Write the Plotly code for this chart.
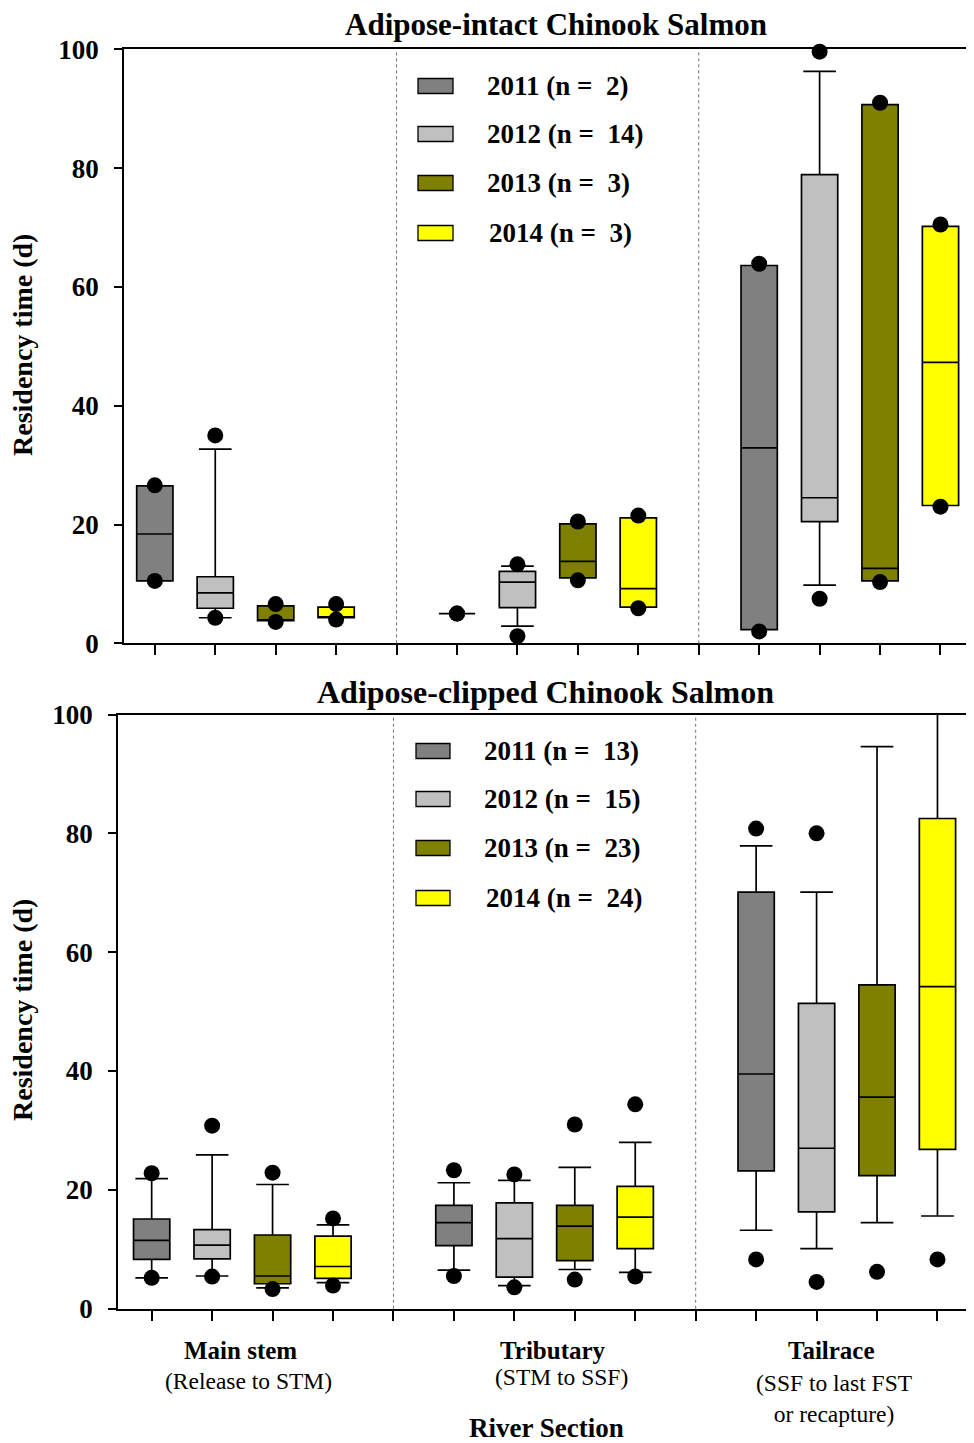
import plotly.graph_objects as go

# ---------------- data ----------------
years = ["2011", "2012", "2013", "2014"]
sections = ["Main stem", "Tributary", "Tailrace"]
section_sub = ["(Release to STM)", "(STM to SSF)", "(SSF to last FST<br>or recapture)"]
colors = ["#808080", "#C0C0C0", "#808000", "#FFFF00"]

n_intact = [2, 14, 3, 3]
n_clipped = [13, 15, 23, 24]

# rows = years (2011..2014), columns = sections (Main stem, Tributary, Tailrace)
intact_q1 = [[10.5, 5.0, 2.3], [5.9, 6.0, 20.5], [3.8, 11.0, 10.5], [4.3, 6.1, 23.2]]
intact_med = [[18.4, 5.0, 32.9], [8.5, 10.3, 24.5], [3.9, 13.8, 12.6], [4.4, 9.2, 47.3]]
intact_q3 = [[26.5, 5.0, 63.6], [11.2, 12.1, 78.9], [6.3, 20.1, 90.7], [6.1, 21.1, 70.2]]
intact_lo = [[10.5, 5.0, 2.3], [4.3, 2.9, 9.8], [3.8, 11.0, 10.5], [4.3, 6.1, 23.2]]
intact_hi = [[26.5, 5.0, 63.6], [32.7, 13.0, 96.3], [6.3, 20.1, 90.7], [6.1, 21.1, 70.2]]
intact_dot_lo = [[10.5, 5.0, 2.0], [4.3, 1.2, 7.5], [3.6, 10.6, 10.3], [4.0, 5.9, 23.0]]
intact_dot_hi = [[26.6, 5.0, 63.9], [35.0, 13.3, 99.6], [6.6, 20.5, 91.0], [6.6, 21.5, 70.5]]

clipped_q1 = [[8.3, 10.6, 23.2], [8.4, 5.3, 16.3], [4.2, 8.1, 22.4], [5.1, 10.1, 26.8]]
clipped_med = [[11.5, 14.5, 39.5], [10.7, 11.8, 27.0], [5.5, 13.9, 35.6], [7.1, 15.4, 54.2]]
clipped_q3 = [[15.1, 17.4, 70.1], [13.3, 17.8, 51.4], [12.4, 17.4, 54.5], [12.2, 20.6, 82.5]]
clipped_lo = [[5.2, 6.5, 13.2], [5.5, 3.9, 10.1], [3.5, 6.6, 14.5], [4.4, 6.1, 15.6]]
clipped_hi = [[21.9, 21.2, 77.9], [25.9, 21.6, 70.1], [20.9, 23.8, 94.6], [14.1, 28.0, 118.0]]
clipped_dot_lo = [[5.2, 5.5, 8.3], [5.4, 3.6, 4.5], [3.3, 4.9, 6.2], [3.9, 5.4, 8.3]]
clipped_dot_hi = [[22.8, 23.3, 80.8], [30.8, 22.6, 80.0], [22.9, 31.0, None], [15.2, 34.4, None]]

yticks = [0, 20, 40, 60, 80, 100]

# ---------------- layout helpers ----------------
W, H = 974, 1443
OFF = 8  # default page body margin
FONT = "Liberation Serif, Times New Roman, serif"


def px(x):
    return (x - OFF) / W


def py(y):
    return 1 - (y - OFF) / H


def pos(s, yi):
    return 5 * s + yi + 1


fig = go.Figure()

panels = [
    dict(xa="x", ya="y", q1=intact_q1, med=intact_med, q3=intact_q3, lo=intact_lo, hi=intact_hi,
         dlo=intact_dot_lo, dhi=intact_dot_hi),
    dict(xa="x2", ya="y2", q1=clipped_q1, med=clipped_med, q3=clipped_q3, lo=clipped_lo, hi=clipped_hi,
         dlo=clipped_dot_lo, dhi=clipped_dot_hi),
]

for p in panels:
    # outlier dots (drawn first, under the boxes)
    dx, dy = [], []
    for yi in range(4):
        for s in range(3):
            for v in (p["dlo"][yi][s], p["dhi"][yi][s]):
                if v is not None:
                    dx.append(pos(s, yi))
                    dy.append(v)
    fig.add_trace(go.Scatter(x=dx, y=dy, mode="markers", xaxis=p["xa"], yaxis=p["ya"],
                             marker=dict(color="black", size=16), cliponaxis=False,
                             showlegend=False, hoverinfo="skip"))
for p in panels:
    for yi in range(4):
        fig.add_trace(go.Box(
            x=[pos(s, yi) for s in range(3)],
            q1=p["q1"][yi], median=p["med"][yi], q3=p["q3"][yi],
            lowerfence=p["lo"][yi], upperfence=p["hi"][yi],
            xaxis=p["xa"], yaxis=p["ya"],
            fillcolor=colors[yi], line=dict(color="black", width=1.7),
            width=0.6, whiskerwidth=0.9, boxpoints=False,
            showlegend=False, name=years[yi]))

# plot areas in pixels
top = dict(x0=124, x1=970.7, y0=49.3, y1=643.3, xr=[0.49, 14.5])
bot = dict(x0=118, x1=968.3, y0=714.5, y1=1308.7, xr=[0.443, 14.51])

axis_common = dict(showline=True, linecolor="black", linewidth=1.8, mirror=True, automargin=False,
                   ticks="outside", tickcolor="black", showgrid=False, zeroline=False)

xt = dict(tickvals=list(range(1, 15)), showticklabels=False, ticklen=10, tickwidth=1.5, **axis_common)
yt = dict(range=[0, 100], tickvals=yticks, ticklen=8, tickwidth=1.5, ticklabelstandoff=10,
          tickfont=dict(family=FONT, size=27, color="black", weight="bold"), **axis_common)

fig.update_layout(
    width=W, height=H, autosize=False,
    margin=dict(l=0, r=0, t=0, b=0, pad=0),
    plot_bgcolor="white", paper_bgcolor="white",
    xaxis=dict(domain=[px(top["x0"]), px(top["x1"])], range=top["xr"], anchor="y", **xt),
    yaxis=dict(domain=[py(top["y1"]), py(top["y0"])], anchor="x", **yt),
    xaxis2=dict(domain=[px(bot["x0"]), px(bot["x1"])], range=bot["xr"], anchor="y2", **xt),
    yaxis2=dict(domain=[py(bot["y1"]), py(bot["y0"])], anchor="x2", **yt),
)

shapes = []
ann = []
# section separators
for xa, ya in (("x", "y"), ("x2", "y2")):
    for s in (1, 2):
        shapes.append(dict(type="line", xref=xa, yref=ya + " domain", x0=5 * s, x1=5 * s, y0=0, y1=1,
                           line=dict(color="#707070", width=1, dash="dot")))

# titles
ann.append(dict(text="<b>Adipose-intact Chinook Salmon</b>", x=px(556), y=py(25), xref="paper", yref="paper",
                showarrow=False, font=dict(family=FONT, size=31, color="black"), xanchor="center", yanchor="middle"))
ann.append(dict(text="<b>Adipose-clipped Chinook Salmon</b>", x=px(545), y=py(692), xref="paper", yref="paper",
                showarrow=False, font=dict(family=FONT, size=32, color="black"), xanchor="center", yanchor="middle"))
# y titles
for ycen in (345, 1010):
    ann.append(dict(text="<b>Residency time (d)</b>", x=px(22), y=py(ycen), xref="paper", yref="paper",
                    showarrow=False, textangle=-90, font=dict(family=FONT, size=28, color="black"),
                    xanchor="center", yanchor="middle"))

# manual legends
leg_specs = [
    dict(n=n_intact, sx0=418, sx1=453, tx=485, ys=[86, 134, 183, 233]),
    dict(n=n_clipped, sx0=416, sx1=450, tx=482, ys=[751, 799, 848, 898]),
]
for L in leg_specs:
    for yi in range(4):
        yc = L["ys"][yi]
        shapes.append(dict(type="rect", xref="paper", yref="paper",
                           x0=px(L["sx0"]), x1=px(L["sx1"]), y0=py(yc + 7.5), y1=py(yc - 7.5),
                           fillcolor=colors[yi], line=dict(color="black", width=1.3)))
        ann.append(dict(text=f"<b>{years[yi]} (n =\u00a0 {L['n'][yi]})</b>", x=px(L["tx"] + (2 if yi == 3 else 0)),
                        y=py(yc), xref="paper", yref="paper", showarrow=False,
                        font=dict(family=FONT, size=27, color="black"), xanchor="left", yanchor="middle"))

# x category labels (bottom panel)
cat_pos = [(240, 248), (553, 561), (831, 834)]
for s in range(3):
    ann.append(dict(text=f"<b>{sections[s]}</b>", x=px(cat_pos[s][0]), y=py(1350), xref="paper", yref="paper",
                    showarrow=False, font=dict(family=FONT, size=25, color="black"),
                    xanchor="center", yanchor="middle"))
sub_y = [1381, 1377, 1398]
for s in range(3):
    ann.append(dict(text=section_sub[s], x=px(cat_pos[s][1]), y=py(sub_y[s]), xref="paper", yref="paper",
                    showarrow=False, font=dict(family=FONT, size=23.5, color="black"),
                    xanchor="center", yanchor="middle", align="center"))
ann.append(dict(text="<b>River Section</b>", x=px(546), y=py(1428), xref="paper", yref="paper",
                showarrow=False, font=dict(family=FONT, size=27, color="black"), xanchor="center", yanchor="middle"))

fig.update_layout(shapes=shapes, annotations=ann)
fig.write_html("out.html")
